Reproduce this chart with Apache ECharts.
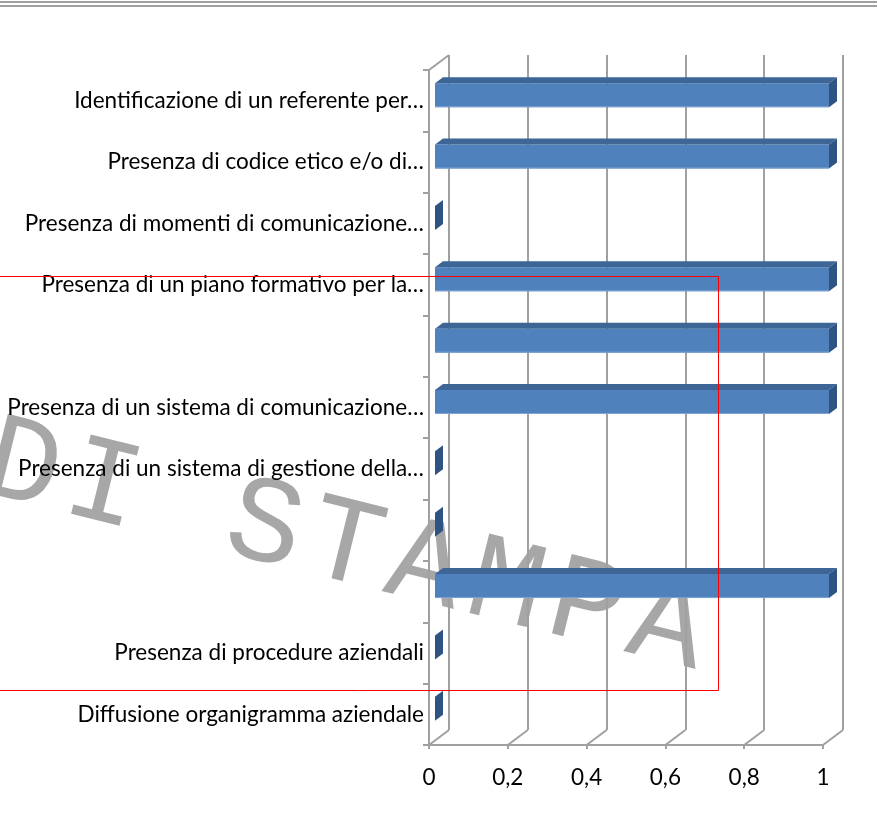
<!DOCTYPE html>
<html>
<head>
<meta charset="utf-8">
<script src="https://cdn.jsdelivr.net/npm/echarts@6/dist/echarts.min.js"></script>
<style>
  html, body { margin: 0; padding: 0; background: #fff; }
  #main { width: 877px; height: 818px; }
</style>
</head>
<body>
<div id="main"></div>
<script>
// categorie dall'alto verso il basso (alcune senza etichetta nel grafico)
const categories = [
  "Identificazione di un referente per…",
  "Presenza di codice etico e/o di…",
  "Presenza di momenti di comunicazione…",
  "Presenza di un piano formativo per la…",
  "",
  "Presenza di un sistema di comunicazione…",
  "Presenza di un sistema di gestione della…",
  "",
  "",
  "Presenza di procedure aziendali",
  "Diffusione organigramma aziendale"
];
const values = [1, 1, 0, 1, 1, 1, 0, 0, 1, 0, 0];
const xTicks = [0, 0.2, 0.4, 0.6, 0.8, 1];
const watermark = "DI STAMPA";

// profondita' dell'effetto 3d
const DX = 20, DY = -15;
const lineColor = "#a0a0a0";
const font = "Lato";

let chart = echarts.init(document.getElementById("main"));

// lettere della filigrana, una per una (passo fisso come un font monospace)
let wmLetters = watermark.split("").map((ch, i) => ({
  type: "text",
  x: (i - 4) * 83,
  y: 0,
  style: {
    text: ch,
    font: "124px 'Liberation Mono'",
    fill: "rgba(120,120,120,0.65)",
    align: "center",
    verticalAlign: "middle"
  }
}));

chart.setOption({
  animation: false,
  grid: [
    { left: 429, top: 70, width: 394, height: 675 },
    { left: 449, top: 55, width: 394, height: 675 }
  ],
  xAxis: [
    {
      gridIndex: 0, type: "value", min: 0, max: 1, interval: 0.2,
      axisLine: { show: true, lineStyle: { color: lineColor, width: 2 } },
      axisTick: { show: true, length: 4, lineStyle: { color: lineColor, width: 2 } },
      splitLine: { show: false },
      axisLabel: {
        color: "#000", fontSize: 22.5, fontFamily: font, margin: 21,
        formatter: v => String(v).replace(".", ",")
      }
    },
    {
      gridIndex: 1, type: "value", min: 0, max: 1, interval: 0.2,
      axisLine: { show: false }, axisTick: { show: false }, axisLabel: { show: false },
      splitLine: { show: true, lineStyle: { color: lineColor, width: 2 } }
    }
  ],
  yAxis: [
    {
      gridIndex: 0, type: "category", inverse: true, data: categories,
      axisLine: { show: true, lineStyle: { color: lineColor, width: 2 } },
      axisTick: { show: true, length: 6, lineStyle: { color: lineColor, width: 2 } },
      axisLabel: { color: "#000", fontSize: 22.5, fontFamily: font, margin: 5, interval: 0 }
    },
    {
      gridIndex: 1, type: "category", inverse: true, data: categories, show: false
    }
  ],
  series: [
    {
      // diagonali del pavimento e della parete sinistra
      type: "custom",
      xAxisIndex: 0, yAxisIndex: 0,
      data: xTicks.map(v => [v]),
      silent: true,
      z: 1,
      renderItem: function (params, api) {
        const cs = params.coordSys;
        const x = api.coord([api.value(0), 0])[0];
        const yb = cs.y + cs.height;
        const style = { stroke: lineColor, lineWidth: 2 };
        const children = [{
          type: "line",
          shape: { x1: x, y1: yb, x2: x + DX, y2: yb + DY },
          style: style
        }];
        if (params.dataIndex === 0) {
          children.push({
            type: "line",
            shape: { x1: x, y1: cs.y, x2: x + DX, y2: cs.y + DY },
            style: style
          });
        }
        return { type: "group", children: children };
      }
    },
    {
      // barre 3d
      type: "custom",
      xAxisIndex: 0, yAxisIndex: 0,
      data: values.map((v, i) => [v, i]),
      z: 5,
      renderItem: function (params, api) {
        const v = api.value(0), i = api.value(1);
        const c0 = api.coord([0, i]);
        const c1 = api.coord([v, i]);
        const h = 24;
        const x0 = c0[0] + DX * 0.3;
        const x1 = c1[0] + DX * 0.3;
        const y0 = c0[1] - h / 2 + DY * 0.3 - 1;
        const y1 = y0 + h;
        const ddx = DX * 0.4, ddy = DY * 0.4;
        const children = [];
        if (x1 > x0) {
          children.push({
            type: "rect",
            shape: { x: x0, y: y0, width: x1 - x0, height: h },
            style: { fill: "#4f81bd" }
          });
          children.push({
            type: "line",
            shape: { x1: x0, y1: y1 - 0.5, x2: x1, y2: y1 - 0.5 },
            style: { stroke: "#7fa3d3", lineWidth: 1 }
          });
          children.push({
            type: "polygon",
            shape: { points: [[x0, y0], [x1, y0], [x1 + ddx, y0 + ddy], [x0 + ddx, y0 + ddy]] },
            style: { fill: "#3d6595" }
          });
        }
        children.push({
          type: "polygon",
          shape: { points: [[x1, y0], [x1 + ddx, y0 + ddy], [x1 + ddx, y1 + ddy], [x1, y1]] },
          style: { fill: "#2f5382" }
        });
        return { type: "group", children: children };
      }
    }
  ],
  graphic: [
    {
      type: "rect", z: 50, silent: true,
      shape: { x: 0, y: 1, width: 877, height: 2 },
      style: { fill: "#a0a0a0" }
    },
    {
      type: "rect", z: 50, silent: true,
      shape: { x: 0, y: 5, width: 877, height: 2 },
      style: { fill: "#a0a0a0" }
    },
    {
      type: "rect", z: 60, silent: true,
      shape: { x: -2, y: 276.5, width: 720.5, height: 414 },
      style: { fill: "none", stroke: "#ff0000", lineWidth: 1 }
    },
    {
      type: "group", z: 100, silent: true,
      x: 345, y: 548, rotation: -0.244,
      children: wmLetters
    }
  ]
});
</script>
</body>
</html>
